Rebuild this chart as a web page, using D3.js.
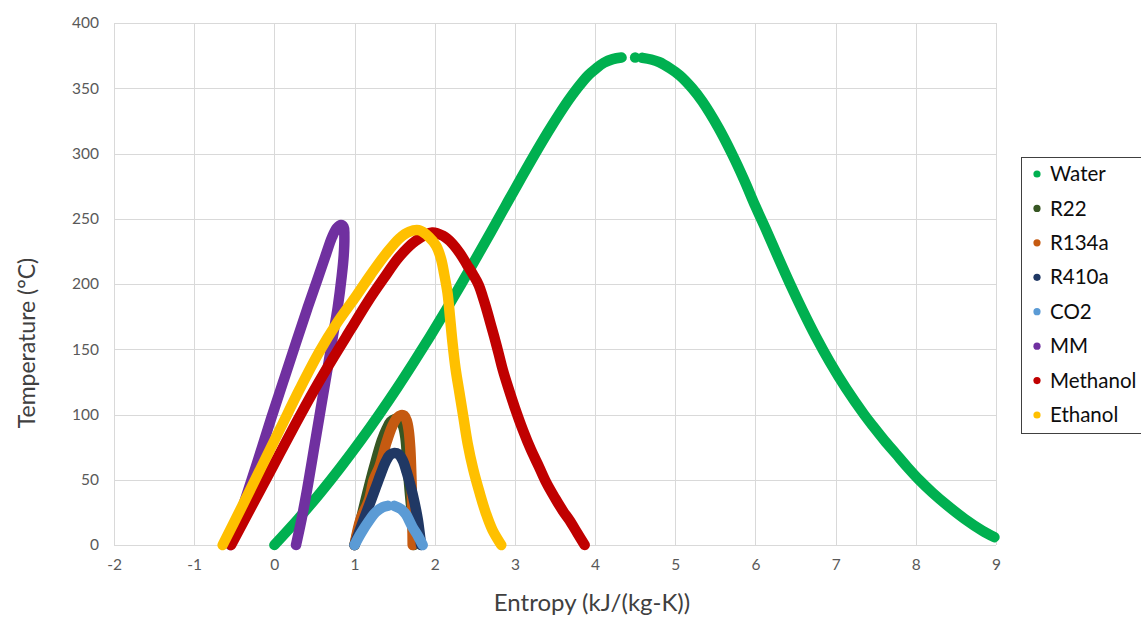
<!DOCTYPE html>
<html>
<head>
<meta charset="utf-8">
<script src="https://cdn.jsdelivr.net/npm/d3@7"></script>
<style>
  html, body { margin: 0; padding: 0; background: #fff; }
  svg { display: block; font-family: Lato, "Open Sans", sans-serif; }
</style>
</head>
<body>
<svg id="chart" width="1141" height="618"></svg>
<script>
// Saturation domes on a T-s diagram: [entropy kJ/(kg-K), temperature °C]
const fluidNames = ["Water", "R22", "R134a", "R410a", "CO2", "MM", "Methanol", "Ethanol"];
const fluidColors = ["#00B050", "#375623", "#C55A11", "#203864", "#5B9BD5", "#7030A0", "#C00000", "#FFC000"];

const xTicks = [-2, -1, 0, 1, 2, 3, 4, 5, 6, 7, 8, 9];
const yTicks = [0, 50, 100, 150, 200, 250, 300, 350, 400];

const waterLiquid = [[0,0],[0.297,20],[0.573,40],[0.831,60],[1.075,80],[1.307,100],[1.528,120],[1.739,140],[1.943,160],[2.140,180],[2.331,200],[2.518,220],[2.702,240],[2.884,260],[3.067,280],[3.253,300],[3.448,320],[3.659,340],[3.778,350],[3.915,360],[4.0,364.5],[4.11,369.5],[4.22,372.3],[4.33,373.5]];
const waterCritical = [[4.50,373.6]];
const waterVapor = [[4.59,373.3],[4.70,372],[4.80,370],[4.94,365],[5.053,360],[5.211,350],[5.336,340],[5.536,320],[5.705,300],[5.857,280],[5.996,260],[6.144,240],[6.286,220],[6.432,200],[6.586,180],[6.750,160],[6.930,140],[7.130,120],[7.355,100],[7.48,90],[7.61,80],[7.75,70],[7.89,60],[8.04,50],[8.21,40],[8.40,30],[8.61,20],[8.83,11],[8.98,6]];

const r22Liquid = [[1.0,0],[1.08,20],[1.16,40],[1.245,60],[1.34,80],[1.40,89],[1.45,94.5],[1.50,96.5]];
const r22Vapor = [[1.55,96],[1.60,92],[1.635,82],[1.66,62],[1.69,40],[1.72,20],[1.74,0]];

const r134aLiquid = [[1.0,0],[1.076,20],[1.18,34.5],[1.24,50],[1.31,60],[1.40,79],[1.47,91],[1.53,97.5],[1.58,99.5]];
const r134aVapor = [[1.62,99],[1.65,95.5],[1.675,88],[1.695,74],[1.71,50],[1.72,25],[1.725,0]];

const r410aLiquid = [[1.0,0],[1.07,12],[1.143,24],[1.21,35],[1.27,45],[1.33,55],[1.39,64],[1.44,69],[1.496,70.5]];
const r410aVapor = [[1.55,69.5],[1.60,65],[1.65,56],[1.70,45],[1.75,32],[1.79,19],[1.81,10],[1.83,0]];

const co2Liquid = [[1.0,0],[1.08,9],[1.185,19],[1.27,25.5],[1.35,29],[1.413,30]];
const co2Vapor = [[1.496,30],[1.58,27.5],[1.64,23.5],[1.72,14],[1.79,7],[1.85,0]];

const mmLiquid = [[-0.55,0],[-0.40,28],[-0.22,62],[-0.04,97],[0.12,127],[0.27,155],[0.41,181],[0.54,204],[0.64,222],[0.72,236],[0.78,243],[0.83,245.2]];
const mmVapor = [[0.865,243.5],[0.873,237],[0.865,222],[0.84,206],[0.79,182],[0.73,160],[0.69,145],[0.635,125],[0.58,105],[0.525,85],[0.465,63],[0.41,43],[0.34,20],[0.27,0]];

const methanolLiquid = [[-0.54,0],[-0.28,30],[-0.02,60],[0.24,90],[0.50,119],[0.74,144],[0.96,166],[1.16,186],[1.36,204],[1.56,221],[1.76,233],[1.97,239.5]];
const methanolVapor = [[2.10,237],[2.22,231],[2.32,223],[2.40,215],[2.48,207],[2.55,199],[2.60,190],[2.64,182],[2.69,171],[2.74,160],[2.80,146],[2.85,134],[2.92,120],[3.00,105],[3.10,88],[3.20,73],[3.30,60],[3.39,48],[3.50,36],[3.60,26],[3.68,19],[3.78,9],[3.87,0]];

const ethanolLiquid = [[-0.645,0],[-0.40,30],[-0.16,60],[0.08,90],[0.32,120],[0.56,148],[0.78,170],[1.0,189],[1.20,207],[1.39,223],[1.56,235],[1.68,240],[1.80,241.2]];
const ethanolVapor = [[1.93,236],[2.02,229],[2.08,219],[2.12,207],[2.16,193],[2.19,175],[2.22,156],[2.26,135],[2.31,116],[2.36,97],[2.41,78],[2.48,58],[2.56,40],[2.64,24],[2.72,11.5],[2.83,0]];

// Each fluid is drawn as one or more separate runs of points
const fluidSegments = [
  [waterLiquid, waterCritical, waterVapor],
  [r22Liquid.concat(r22Vapor)],
  [r134aLiquid.concat(r134aVapor)],
  [r410aLiquid.concat(r410aVapor)],
  [co2Liquid, co2Vapor],
  [mmLiquid.concat(mmVapor)],
  [methanolLiquid.concat(methanolVapor)],
  [ethanolLiquid.concat(ethanolVapor)]
];

const svg = d3.select("#chart");
const plot = { left: 114, right: 996, top: 23, bottom: 545 };

const x = d3.scaleLinear().domain([-2, 9]).range([plot.left, plot.right]);
const y = d3.scaleLinear().domain([0, 400]).range([plot.bottom, plot.top]);

// Gridlines
const grid = svg.append("g").attr("stroke", "#d9d9d9").attr("stroke-width", 1).attr("shape-rendering", "crispEdges");
grid.selectAll("line.v").data(xTicks).join("line")
  .attr("x1", d => Math.round(x(d)) + 0.5).attr("x2", d => Math.round(x(d)) + 0.5)
  .attr("y1", plot.top).attr("y2", plot.bottom);
grid.selectAll("line.h").data(yTicks).join("line")
  .attr("x1", plot.left).attr("x2", plot.right)
  .attr("y1", d => Math.round(y(d)) + 0.5).attr("y2", d => Math.round(y(d)) + 0.5);

// Axes (labels only; the grid carries the lines)
const xAxis = svg.append("g").attr("transform", `translate(0,${plot.bottom})`)
  .call(d3.axisBottom(x).tickValues(xTicks).tickSize(0).tickPadding(14).tickFormat(d => String(d)));
const yAxis = svg.append("g").attr("transform", `translate(${plot.left},0)`)
  .call(d3.axisLeft(y).tickValues(yTicks).tickSize(0).tickPadding(15).tickFormat(d => String(d)));
[xAxis, yAxis].forEach(a => {
  a.select(".domain").remove();
  a.selectAll("text").attr("fill", "#595959").style("font-size", "15.5px").style("font-family", "Lato, sans-serif");
});

// Curves
const line = d3.line().x(d => x(d[0])).y(d => y(d[1])).curve(d3.curveCatmullRom.alpha(0.5));
const curves = svg.append("g");
fluidSegments.forEach((segs, i) => {
  const g = curves.append("g");
  segs.forEach(seg => {
    if (seg.length === 1) {
      g.append("circle").attr("cx", x(seg[0][0])).attr("cy", y(seg[0][1])).attr("r", 5.3).attr("fill", fluidColors[i]);
    } else {
      g.append("path").attr("d", line(seg)).attr("fill", "none")
        .attr("stroke", fluidColors[i]).attr("stroke-width", 10.5)
        .attr("stroke-linecap", "round").attr("stroke-linejoin", "round");
    }
  });
});

// Axis titles
svg.append("text").attr("x", 592).attr("y", 611).attr("text-anchor", "middle")
  .attr("fill", "#404040").style("font-size", "24px").text("Entropy (kJ/(kg-K))");
svg.append("text").attr("transform", "translate(35,343) rotate(-90)").attr("text-anchor", "middle")
  .attr("fill", "#404040").style("font-size", "23px").text("Temperature (°C)");

// Legend
const legend = svg.append("g");
legend.append("rect").attr("x", 1021.5).attr("y", 157.5).attr("width", 130).attr("height", 276)
  .attr("fill", "#fff").attr("stroke", "#404040").attr("stroke-width", 1);
const rowY = d3.scalePoint().domain(fluidNames).range([174, 415]);
const item = legend.selectAll("g.item").data(fluidNames).join("g")
  .attr("transform", d => `translate(0,${rowY(d)})`);
item.append("circle").attr("cx", 1037).attr("cy", 0).attr("r", 3.6).attr("fill", (d, i) => fluidColors[i]);
item.append("text").attr("x", 1050).attr("y", 0).attr("dy", "0.35em")
  .attr("fill", "#0d0d0d").style("font-size", "20.5px").text(d => d);
</script>
</body>
</html>
